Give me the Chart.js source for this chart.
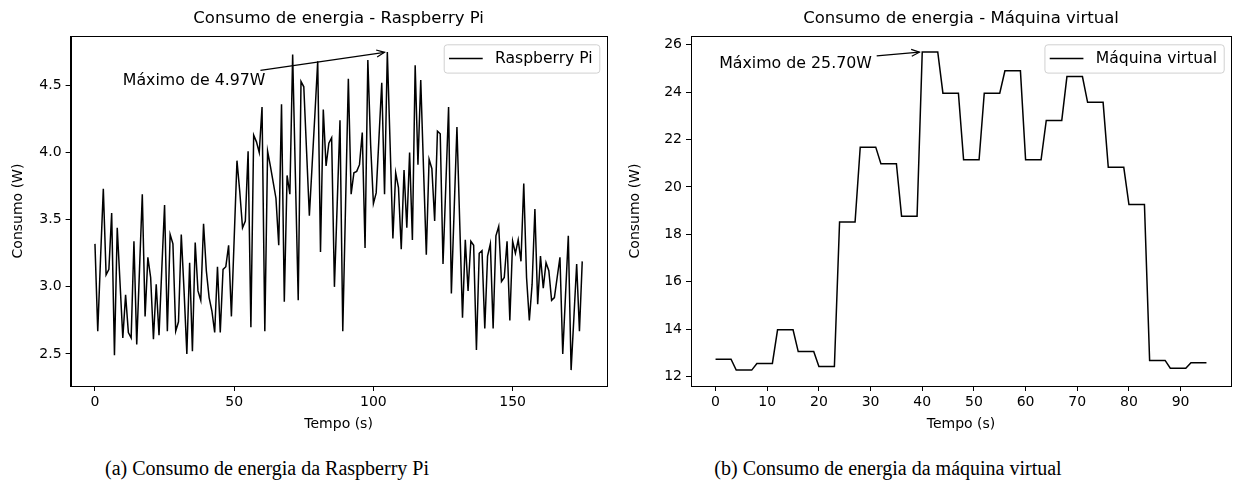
<!DOCTYPE html>
<html><head><meta charset="utf-8">
<script src="https://cdn.jsdelivr.net/npm/chart.js@4.4.0/dist/chart.umd.min.js"></script>
<style>
html,body{margin:0;padding:0;background:#fff;width:1234px;height:492px;overflow:hidden;}
#c1{position:absolute;left:0;top:0;}
#c2{position:absolute;left:617px;top:0;}
.cap{position:absolute;top:457px;font-family:'Liberation Serif','DejaVu Serif',serif;font-size:20px;color:#000;text-align:center;white-space:nowrap;}
</style></head><body>
<canvas id="c1" width="617" height="440"></canvas>
<canvas id="c2" width="617" height="440"></canvas>
<div class="cap" style="left:67px;width:400px;">(a) Consumo de energia da Raspberry Pi</div>
<div class="cap" style="left:688px;width:400px;">(b) Consumo de energia da máquina virtual</div>
<script>
// ---- data ----
const rpiTitle = 'Consumo de energia - Raspberry Pi';
const vmTitle = 'Consumo de energia - Máquina virtual';
const rpiLabel = 'Raspberry Pi';
const vmLabel = 'Máquina virtual';
const xAxisTitle = 'Tempo (s)';
const yAxisTitle = 'Consumo (W)';
const rpiMaxText = 'Máximo de 4.97W';
const vmMaxText = 'Máximo de 25.70W';

const rpiValues = [
 3.32,2.67,3.21,3.73,3.09,3.13,3.55,2.49,3.44,3.03,
 2.62,2.94,2.66,2.62,3.34,2.57,3.13,3.69,2.78,3.22,
 3.07,2.61,3.02,2.64,3.13,3.61,2.67,3.39,3.32,2.67,
 2.74,3.39,2.97,2.50,3.18,2.52,3.33,2.97,2.90,3.47,
 3.12,2.92,2.82,2.66,3.15,2.66,3.13,3.15,3.31,2.78,
 3.36,3.94,3.71,3.44,3.49,4.01,2.70,4.13,4.08,4.00,
 4.34,2.67,4.01,3.90,3.78,3.66,3.31,4.36,2.89,3.83,
 3.69,4.73,3.81,2.90,4.53,4.49,4.01,3.53,3.91,4.29,
 4.68,3.26,4.32,3.90,4.07,4.11,3.00,3.62,4.24,2.67,
 3.61,4.55,3.69,3.85,3.86,3.91,4.15,3.29,4.69,4.06,
 3.62,3.70,4.11,4.52,3.69,4.75,4.06,3.36,3.85,3.74,
 3.28,3.87,3.44,4.00,3.35,4.65,3.91,4.54,3.88,3.24,
 3.95,3.88,3.49,4.16,4.14,3.17,3.75,4.34,2.95,3.57,
 4.19,3.48,2.77,3.35,2.97,3.34,3.31,2.53,3.25,3.27,
 2.69,3.23,3.32,2.69,3.38,3.45,3.04,3.07,3.34,2.75,
 3.34,3.25,3.35,3.19,3.77,3.07,2.75,3.02,3.58,2.87,
 3.23,2.99,3.18,3.12,2.90,2.92,3.07,3.22,2.50,2.94,
 3.38,2.38,2.77,3.17,2.67,3.19
];
const vmValues = [
 12.73,12.73,12.73,12.73, 12.27,12.27,12.27,12.27, 12.55,12.55,12.55,12.55,
 13.97,13.97,13.97,13.97, 13.05,13.05,13.05,13.05, 12.42,12.42,12.42,12.42,
 18.52,18.52,18.52,18.52, 21.68,21.68,21.68,21.68, 20.98,20.98,20.98,20.98,
 18.76,18.76,18.76,18.76, 25.70,25.70,25.70,25.70, 23.96,23.96,23.96,23.96,
 21.15,21.15,21.15,21.15, 23.96,23.96,23.96,23.96, 24.90,24.90,24.90,24.90,
 21.15,21.15,21.15,21.15, 22.81,22.81,22.81,22.81, 24.66,24.66,24.66,24.66,
 23.57,23.57,23.57,23.57, 20.83,20.83,20.83,20.83, 19.26,19.26,19.26,19.26,
 12.68,12.68,12.68,12.68, 12.35,12.35,12.35,12.35, 12.58,12.58,12.58,12.58
];
const rpiXTicks = [0, 50, 100, 150];
const rpiYTicks = [2.5, 3.0, 3.5, 4.0, 4.5];
const vmXTicks = [0, 10, 20, 30, 40, 50, 60, 70, 80, 90];
const vmYTicks = [12, 14, 16, 18, 20, 22, 24, 26];

// ---- drawing ----
Chart.defaults.font.family = "'DejaVu Sans', sans-serif";
Chart.defaults.color = '#000';

const decor = {
  id: 'decor',
  afterDraw(chart, args, o) {
    const ctx = chart.ctx, a = chart.chartArea;
    const xs = chart.scales.x, ys = chart.scales.y;
    ctx.save();
    // axes frame (all four spines)
    ctx.strokeStyle = '#000'; ctx.lineWidth = 1;
    ctx.strokeRect(Math.round(a.left) + 0.5, Math.round(a.top) + 0.5,
                   Math.round(a.right) - Math.round(a.left), Math.round(a.bottom) - Math.round(a.top));
    // annotation text
    ctx.font = o.annFont + 'px "DejaVu Sans"';
    ctx.fillStyle = '#000'; ctx.textAlign = 'left'; ctx.textBaseline = 'alphabetic';
    const tx = xs.getPixelForValue(o.textX), ty = ys.getPixelForValue(o.textY);
    ctx.fillText(o.text, tx, ty);
    const tw = ctx.measureText(o.text).width;
    const bx0 = tx - 2, bx1 = tx + tw + 2, by0 = ty - o.annFont * 0.93, by1 = ty + o.annFont * 0.24;
    const cx = (bx0 + bx1) / 2, cy = (by0 + by1) / 2;
    const px = xs.getPixelForValue(o.pointX), py = ys.getPixelForValue(o.pointY);
    const dx = px - cx, dy = py - cy, L = Math.hypot(dx, dy);
    const ux = dx / L, uy = dy / L;
    const tX = dx !== 0 ? ((dx > 0 ? bx1 : bx0) - cx) / dx : Infinity;
    const tY = dy !== 0 ? ((dy > 0 ? by1 : by0) - cy) / dy : Infinity;
    const te = Math.min(tX, tY);
    const sx = cx + dx * te + ux * 2.8, sy = cy + dy * te + uy * 2.8;
    const ex = px - ux * 2.8, ey = py - uy * 2.8;
    ctx.strokeStyle = '#000'; ctx.lineWidth = 1.2;
    ctx.beginPath(); ctx.moveTo(sx, sy); ctx.lineTo(ex, ey); ctx.stroke();
    const hl = 8, hw = 3.5;
    ctx.beginPath();
    ctx.moveTo(ex - ux * hl - uy * hw, ey - uy * hl + ux * hw);
    ctx.lineTo(ex, ey);
    ctx.lineTo(ex - ux * hl + uy * hw, ey - uy * hl - ux * hw);
    ctx.stroke();
    // legend box inside the axes (upper right)
    ctx.font = o.legFont + 'px "DejaVu Sans"';
    const lw = ctx.measureText(o.legend).width;
    const boxW = 51.3 + lw + 6.6, boxH = 28.3;
    const x0 = a.right - 7.3 - boxW, y0 = a.top + 8.3;
    ctx.beginPath();
    if (ctx.roundRect) ctx.roundRect(x0 + 0.5, y0 + 0.5, boxW, boxH, 3); else ctx.rect(x0 + 0.5, y0 + 0.5, boxW, boxH);
    ctx.fillStyle = 'rgba(255,255,255,0.8)'; ctx.fill();
    ctx.strokeStyle = '#d0d0d0'; ctx.lineWidth = 1; ctx.stroke();
    const my = y0 + boxH / 2;
    ctx.strokeStyle = '#000'; ctx.lineWidth = 1.5;
    ctx.beginPath(); ctx.moveTo(x0 + 5.3, my); ctx.lineTo(x0 + 39, my); ctx.stroke();
    ctx.fillStyle = '#000'; ctx.textBaseline = 'middle';
    ctx.fillText(o.legend, x0 + 51.3, my);
    ctx.restore();
  }
};

function range(vals) {
  const lo = Math.min(...vals), hi = Math.max(...vals), m = (hi - lo) * 0.05;
  return [lo - m, hi + m];
}

function makeChart(id, cfg) {
  const times = cfg.values.map((v, i) => i);
  const [ymin, ymax] = range(cfg.values);
  const [xmin, xmax] = range(times);
  const imax = cfg.values.indexOf(Math.max(...cfg.values));
  return new Chart(document.getElementById(id), {
    type: 'line',
    data: { datasets: [{
      label: cfg.label,
      data: cfg.values.map((v, i) => ({ x: times[i], y: v })),
      borderColor: '#000', borderWidth: 1.5, pointRadius: 0, tension: 0, fill: false
    }] },
    options: {
      responsive: false, animation: false, devicePixelRatio: 1,
      layout: { padding: { left: 0, right: cfg.padRight, top: 0, bottom: 0 } },
      plugins: {
        legend: { display: false }, tooltip: { enabled: false },
        title: { display: true, fullSize: false, text: cfg.title, color: '#000',
                 font: { size: 16.5, weight: 'normal' }, padding: { top: 9.1, bottom: 7.1 } },
        decor: { text: cfg.maxText, textX: cfg.textX, textY: cfg.textY,
                 pointX: times[imax], pointY: cfg.values[imax], legend: cfg.label,
                 annFont: 15.8, legFont: 15.6 }
      },
      scales: {
        x: {
          type: 'linear', min: xmin, max: xmax,
          afterBuildTicks: s => { s.ticks = cfg.xTicks.map(v => ({ value: v })); },
          afterFit: s => { s.height = 54; },
          grid: { display: true, drawOnChartArea: false, drawTicks: true, tickLength: 5, color: '#000' },
          border: { display: true, color: '#000' },
          ticks: { font: { size: 14 }, color: '#000', padding: 3, maxRotation: 0, autoSkip: false },
          title: { display: true, text: xAxisTitle, color: '#000', font: { size: 14 }, padding: { top: 0, bottom: 7.6 } }
        },
        y: {
          type: 'linear', min: ymin, max: ymax,
          afterBuildTicks: s => { s.ticks = cfg.yTicks.map(v => ({ value: v })); },
          afterFit: s => { s.width = cfg.yWidth; },
          grid: { display: true, drawOnChartArea: false, drawTicks: true, tickLength: 5, color: '#000' },
          border: { display: true, color: '#000' },
          ticks: { font: { size: 14 }, color: '#000', padding: 4, autoSkip: false,
                   callback: v => cfg.yFmt(v) },
          title: { display: true, text: yAxisTitle, color: '#000', font: { size: 14 }, padding: { top: 9.6, bottom: 0 } }
        }
      }
    },
    plugins: [decor]
  });
}

makeChart('c1', { title: rpiTitle, label: rpiLabel, values: rpiValues, xTicks: rpiXTicks, yTicks: rpiYTicks,
  yFmt: v => v.toFixed(1), maxText: rpiMaxText, textX: 10, textY: 4.5, padRight: 10.4, yWidth: 70.6 });
makeChart('c2', { title: vmTitle, label: vmLabel, values: vmValues, xTicks: vmXTicks, yTicks: vmYTicks,
  yFmt: v => String(v), maxText: vmMaxText, textX: 0.7, textY: 25, padRight: 3, yWidth: 74 });
</script>
</body></html>
